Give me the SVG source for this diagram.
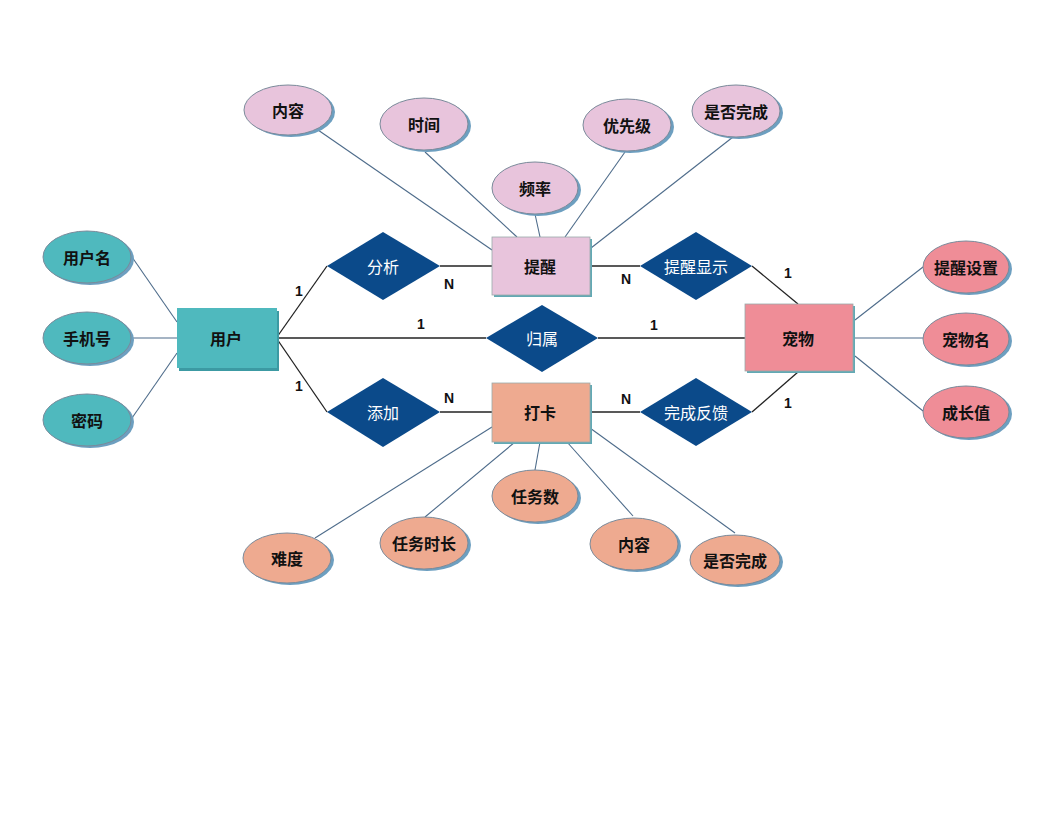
<svg xmlns="http://www.w3.org/2000/svg" width="1056" height="816" viewBox="0 0 1056 816">
<style>
text{font-family:"Noto Sans CJK SC","Liberation Sans",sans-serif;text-anchor:middle;dominant-baseline:central}
.t{font-size:16px;font-weight:bold;fill:#111}
.w{font-size:16px;fill:#fff}
.c{font-family:"Liberation Sans",sans-serif;font-size:14px;font-weight:bold;fill:#111}
.rel line{stroke:#222;stroke-width:1.3}
.att line{stroke:#4d6b8a;stroke-width:1.1}
.sh{fill:#6d9fc0}
.e{stroke:#7a8a9a;stroke-width:1}
.dia{fill:#0b4a8a}
.teal{fill:#4fb9be}
.pink{fill:#e8c4dc}
.salm{fill:#eeaa90}
.coral{fill:#ef8d97}
</style>
<rect width="1056" height="816" fill="#fff"/>
<g id="connectors">
<g class="att">
<line x1="132" y1="257" x2="177" y2="322"/>
<line x1="132" y1="338" x2="177" y2="338"/>
<line x1="132" y1="418" x2="177" y2="353"/>
<line x1="318" y1="130" x2="492" y2="250"/>
<line x1="425" y1="152" x2="517" y2="237"/>
<line x1="535" y1="214" x2="540" y2="237"/>
<line x1="625" y1="152" x2="565" y2="237"/>
<line x1="733" y1="137" x2="591" y2="248"/>
<line x1="855" y1="320" x2="923" y2="267"/>
<line x1="855" y1="338" x2="923" y2="338"/>
<line x1="855" y1="356" x2="923" y2="411"/>
<line x1="315" y1="538" x2="492" y2="427"/>
<line x1="425" y1="517" x2="515" y2="442"/>
<line x1="535" y1="470" x2="540" y2="442"/>
<line x1="633" y1="516" x2="567" y2="442"/>
<line x1="735" y1="533" x2="590" y2="428"/>
</g>
<g class="rel">
<line x1="277" y1="337" x2="327" y2="266"/>
<line x1="440" y1="266" x2="492" y2="266"/>
<line x1="590" y1="266" x2="640" y2="266"/>
<line x1="752" y1="266" x2="798" y2="304"/>
<line x1="277" y1="338" x2="486" y2="338"/>
<line x1="598" y1="338" x2="745" y2="338"/>
<line x1="277" y1="339" x2="327" y2="412"/>
<line x1="440" y1="412" x2="492" y2="412"/>
<line x1="590" y1="412" x2="640" y2="412"/>
<line x1="752" y1="412" x2="798" y2="372"/>
</g>
<g id="cardinalities">
<text class="c" x="299" y="291">1</text>
<text class="c" x="449" y="284">N</text>
<text class="c" x="626" y="279">N</text>
<text class="c" x="788" y="273">1</text>
<text class="c" x="421" y="324">1</text>
<text class="c" x="654" y="325">1</text>
<text class="c" x="299" y="386">1</text>
<text class="c" x="449" y="398">N</text>
<text class="c" x="626" y="399">N</text>
<text class="c" x="788" y="403">1</text>
</g>
</g>
<g id="user">
<rect x="179" y="311" width="100" height="60" fill="#3c9aa3"/>
<rect x="177" y="308" width="100" height="60" class="teal"/>
<text class="t" x="226" y="338">用户</text>
</g>
<g id="remind">
<rect x="494" y="239" width="98" height="58" fill="#62a9b4"/>
<rect x="492" y="237" width="98" height="58" class="pink" stroke="#9aa" stroke-width="0.8"/>
<text class="t" x="540" y="266">提醒</text>
</g>
<g id="checkin">
<rect x="494" y="385" width="98" height="59" fill="#62a9b4"/>
<rect x="492" y="383" width="98" height="59" class="salm" stroke="#9aa" stroke-width="0.8"/>
<text class="t" x="540" y="412">打卡</text>
</g>
<g id="pet">
<rect x="747" y="306" width="108" height="67" fill="#62a9b4"/>
<rect x="745" y="304" width="108" height="67" class="coral" stroke="#9aa" stroke-width="0.8"/>
<text class="t" x="798" y="338">宠物</text>
</g>
<g id="rel-analyze"><polygon class="dia" points="327,266 383,232 440,266 383,300"/><text class="w" x="383" y="266">分析</text></g>
<g id="rel-show"><polygon class="dia" points="640,266 696,232 752,266 696,300"/><text class="w" x="696" y="266">提醒显示</text></g>
<g id="rel-belong"><polygon class="dia" points="486,338 542,305 598,338 542,372"/><text class="w" x="542" y="338">归属</text></g>
<g id="rel-add"><polygon class="dia" points="327,412 383,378 440,412 383,447"/><text class="w" x="383" y="412">添加</text></g>
<g id="rel-feedback"><polygon class="dia" points="640,412 696,378 752,412 696,446"/><text class="w" x="696" y="412">完成反馈</text></g>
<g id="a-username"><ellipse class="sh" cx="90" cy="259" rx="44" ry="26"/><ellipse class="e teal" cx="87" cy="257" rx="44" ry="26"/><text class="t" x="87" y="257">用户名</text></g>
<g id="a-phone"><ellipse class="sh" cx="90" cy="340" rx="44" ry="26"/><ellipse class="e teal" cx="87" cy="338" rx="44" ry="26"/><text class="t" x="87" y="338">手机号</text></g>
<g id="a-pwd"><ellipse class="sh" cx="90" cy="422" rx="44" ry="26"/><ellipse class="e teal" cx="87" cy="420" rx="44" ry="26"/><text class="t" x="87" y="420">密码</text></g>
<g id="a-content1"><ellipse class="sh" cx="291" cy="112" rx="44" ry="25"/><ellipse class="e pink" cx="288" cy="110" rx="44" ry="25"/><text class="t" x="288" y="110">内容</text></g>
<g id="a-time"><ellipse class="sh" cx="427" cy="126" rx="44" ry="26"/><ellipse class="e pink" cx="424" cy="124" rx="44" ry="26"/><text class="t" x="424" y="124">时间</text></g>
<g id="a-freq"><ellipse class="sh" cx="538" cy="190" rx="43" ry="26"/><ellipse class="e pink" cx="535" cy="188" rx="43" ry="26"/><text class="t" x="535" y="188">频率</text></g>
<g id="a-priority"><ellipse class="sh" cx="630" cy="127" rx="44" ry="26"/><ellipse class="e pink" cx="627" cy="125" rx="44" ry="26"/><text class="t" x="627" y="125">优先级</text></g>
<g id="a-done1"><ellipse class="sh" cx="739" cy="113" rx="44" ry="26"/><ellipse class="e pink" cx="736" cy="111" rx="44" ry="26"/><text class="t" x="736" y="111">是否完成</text></g>
<g id="a-remindset"><ellipse class="sh" cx="969" cy="269" rx="43" ry="26"/><ellipse class="e coral" cx="966" cy="267" rx="43" ry="26"/><text class="t" x="966" y="267">提醒设置</text></g>
<g id="a-petname"><ellipse class="sh" cx="969" cy="341" rx="43" ry="26"/><ellipse class="e coral" cx="966" cy="339" rx="43" ry="26"/><text class="t" x="966" y="339">宠物名</text></g>
<g id="a-growth"><ellipse class="sh" cx="969" cy="414" rx="43" ry="26"/><ellipse class="e coral" cx="966" cy="412" rx="43" ry="26"/><text class="t" x="966" y="412">成长值</text></g>
<g id="a-difficulty"><ellipse class="sh" cx="290" cy="560" rx="44" ry="25"/><ellipse class="e salm" cx="287" cy="558" rx="44" ry="25"/><text class="t" x="287" y="558">难度</text></g>
<g id="a-duration"><ellipse class="sh" cx="427" cy="545" rx="44" ry="26"/><ellipse class="e salm" cx="424" cy="543" rx="44" ry="26"/><text class="t" x="424" y="543">任务时长</text></g>
<g id="a-count"><ellipse class="sh" cx="538" cy="498" rx="43" ry="26"/><ellipse class="e salm" cx="535" cy="496" rx="43" ry="26"/><text class="t" x="535" y="496">任务数</text></g>
<g id="a-content2"><ellipse class="sh" cx="637" cy="546" rx="44" ry="26"/><ellipse class="e salm" cx="634" cy="544" rx="44" ry="26"/><text class="t" x="634" y="544">内容</text></g>
<g id="a-done2"><ellipse class="sh" cx="738" cy="562" rx="45" ry="25"/><ellipse class="e salm" cx="735" cy="560" rx="45" ry="25"/><text class="t" x="735" y="560">是否完成</text></g>
</svg>
